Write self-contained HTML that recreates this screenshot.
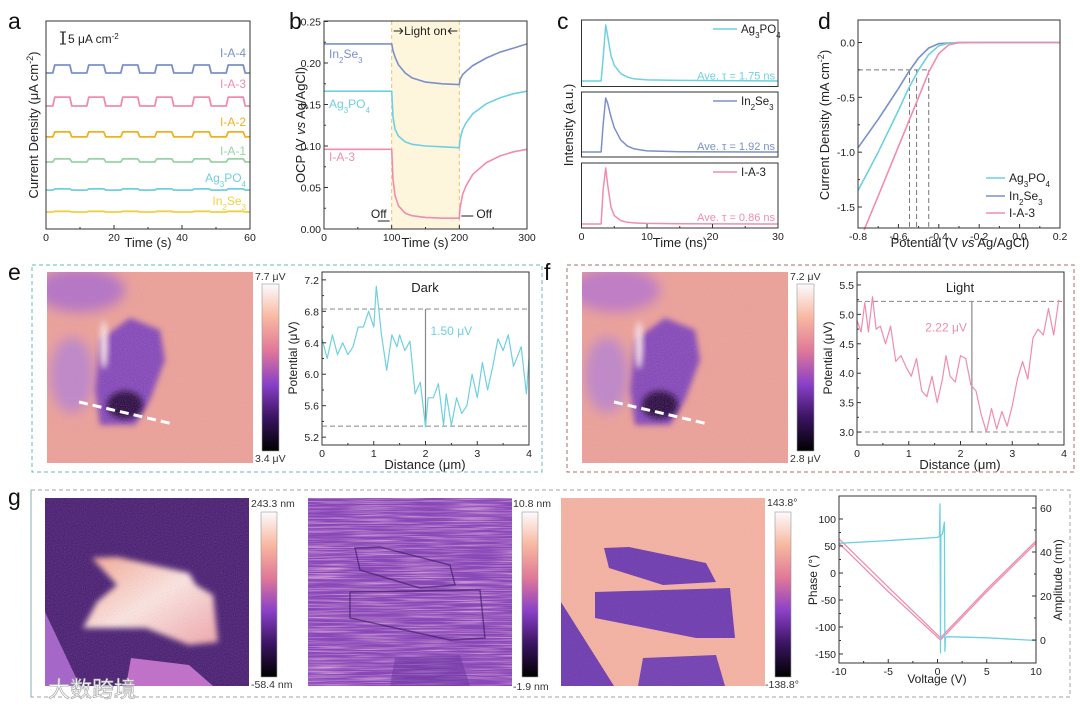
<!DOCTYPE html>
<html><head><meta charset="utf-8"><style>
html,body{margin:0;padding:0;background:#fff;}
svg{display:block;font-family:"Liberation Sans","Noto Sans CJK SC",sans-serif;}
</style></head><body>
<svg id="fig" width="1080" height="706" viewBox="0 0 1080 706" xmlns="http://www.w3.org/2000/svg">
<defs>
<linearGradient id="cbar" x1="0" y1="1" x2="0" y2="0">
<stop offset="0" stop-color="#000"/><stop offset="0.2" stop-color="#3a1460"/><stop offset="0.4" stop-color="#8a40c8"/><stop offset="0.6" stop-color="#e07898"/><stop offset="0.8" stop-color="#f8b8a0"/><stop offset="1" stop-color="#fbfbfd"/>
</linearGradient>
<linearGradient id="wing" x1="0" y1="0" x2="1" y2="1"><stop offset="0" stop-color="#f4a890"/><stop offset="0.5" stop-color="#fde8e0"/><stop offset="1" stop-color="#f0a8a8"/></linearGradient>
<filter id="grain" x="0" y="0" width="100%" height="100%"><feTurbulence type="fractalNoise" baseFrequency="0.9" numOctaves="1" seed="3"/><feColorMatrix type="matrix" values="0 0 0 0 0.5  0 0 0 0 0.3  0 0 0 0 0.6  0 0 0 -1.4 1.0"/></filter>
<filter id="streak" x="0" y="0" width="100%" height="100%"><feTurbulence type="fractalNoise" baseFrequency="0.02 0.7" numOctaves="2" seed="5"/><feColorMatrix type="matrix" values="0 0 0 0 0.95  0 0 0 0 0.6  0 0 0 0 0.8  0 0 0 -2.2 1.3"/></filter>
<filter id="blur6" x="-50%" y="-50%" width="200%" height="200%"><feGaussianBlur stdDeviation="6"/></filter>
<filter id="blur3" x="-50%" y="-50%" width="200%" height="200%"><feGaussianBlur stdDeviation="3"/></filter>
<clipPath id="clipE"><rect x="47" y="272" width="206" height="191"/></clipPath>
<clipPath id="clipF"><rect x="582" y="272" width="206" height="191"/></clipPath>
<clipPath id="clipG1"><rect x="45" y="498" width="204" height="188"/></clipPath>
<clipPath id="clipG2"><rect x="308" y="498" width="204" height="188"/></clipPath>
<clipPath id="clipG3"><rect x="561" y="498" width="204" height="188"/></clipPath>
</defs>

<!-- panel e image -->
<g clip-path="url(#clipE)">
<rect x="47" y="272" width="206" height="191" fill="#efa496"/>
<ellipse cx="80" cy="290" rx="45" ry="22" fill="#b574c4" filter="url(#blur6)"/>
<ellipse cx="72" cy="375" rx="22" ry="38" fill="#c088c8" filter="url(#blur6)"/>
<polygon points="100,340 130,318 160,330 165,360 150,400 135,425 100,425 95,390" fill="#8448b8" filter="url(#blur3)"/>
<ellipse cx="125" cy="405" rx="18" ry="14" fill="#2a1040" filter="url(#blur3)"/>
<ellipse cx="104" cy="345" rx="4" ry="24" fill="#fbe4e4" filter="url(#blur3)"/>
<rect x="47" y="272" width="206" height="191" filter="url(#grain)" opacity="0.35"/>
<line x1="79" y1="402" x2="173" y2="424" stroke="#fff" stroke-width="3" stroke-dasharray="9,5"/>
</g>
<!-- panel f image -->
<g clip-path="url(#clipF)">
<rect x="582" y="272" width="206" height="191" fill="#efa496"/>
<ellipse cx="615" cy="290" rx="45" ry="22" fill="#c07cc4" filter="url(#blur6)"/>
<ellipse cx="607" cy="375" rx="22" ry="38" fill="#c088c8" filter="url(#blur6)"/>
<polygon points="635,340 665,318 695,330 700,360 685,400 670,425 635,425 630,390" fill="#8448b8" filter="url(#blur3)"/>
<ellipse cx="660" cy="405" rx="18" ry="14" fill="#2a1040" filter="url(#blur3)"/>
<ellipse cx="639" cy="345" rx="4" ry="24" fill="#fbe4e4" filter="url(#blur3)"/>
<rect x="582" y="272" width="206" height="191" filter="url(#grain)" opacity="0.35"/>
<line x1="614" y1="402" x2="708" y2="424" stroke="#fff" stroke-width="3" stroke-dasharray="9,5"/>
</g>
<!-- panel g images -->
<g clip-path="url(#clipG1)">
<rect x="45" y="498" width="204" height="188" fill="#4a2272"/>
<polygon points="45,612 80,686 45,686" fill="#a464c8"/>
<polygon points="131,658 189,665 213,686 126,686" fill="#c070c8"/>
<polygon points="92,558 117,557 189,573 196,585 213,595 218,642 189,645 146,628 83,628 97,602 117,585" fill="url(#wing)" filter="url(#blur3)"/>
<rect x="45" y="498" width="204" height="188" filter="url(#grain)" opacity="0.25"/>
</g>
<g clip-path="url(#clipG2)">
<rect x="308" y="498" width="204" height="188" fill="#8848b8"/>
<rect x="308" y="498" width="204" height="188" filter="url(#streak)" opacity="0.7"/>
<polygon points="355,548 380,547 450,565 455,585 420,588 360,570" fill="none" stroke="#3a1860" stroke-width="1.5" opacity="0.6"/>
<polygon points="350,592 480,590 485,638 450,640 350,618" fill="none" stroke="#3a1860" stroke-width="1.5" opacity="0.6"/>
<polygon points="395,658 460,655 470,686 390,686" fill="#6a34a0" opacity="0.5"/>
</g>
<g clip-path="url(#clipG3)">
<rect x="561" y="498" width="204" height="188" fill="#f4b4a2"/>
<polygon points="561,602 614,686 561,686" fill="#7040b0"/>
<polygon points="604,548 629,547 706,563 716,582 663,585 609,568" fill="#7040b0"/>
<polygon points="595,592 730,588 735,638 696,638 595,618" fill="#7040b0"/>
<polygon points="643,658 716,655 725,686 638,686" fill="#7444b2"/>
<rect x="561" y="498" width="204" height="188" filter="url(#grain)" opacity="0.15"/>
</g>
<!-- colorbars -->
<rect x="262" y="284" width="17" height="167" fill="url(#cbar)" stroke="#999" stroke-width="0.6"/>
<rect x="797" y="284" width="17" height="167" fill="url(#cbar)" stroke="#999" stroke-width="0.6"/>
<rect x="261" y="512" width="16" height="165" fill="url(#cbar)" stroke="#999" stroke-width="0.6"/>
<rect x="522" y="512" width="16" height="165" fill="url(#cbar)" stroke="#999" stroke-width="0.6"/>
<rect x="775" y="512" width="16" height="165" fill="url(#cbar)" stroke="#999" stroke-width="0.6"/>
<g font-size="10.5" fill="#333">
<text x="255" y="280">7.7 μV</text><text x="255" y="462">3.4 μV</text>
<text x="790" y="280">7.2 μV</text><text x="790" y="462">2.8 μV</text>
<text x="251" y="507">243.3 nm</text><text x="251" y="688">-58.4 nm</text>
<text x="513" y="507">10.8 nm</text><text x="513" y="690">-1.9 nm</text>
<text x="767" y="506">143.8°</text><text x="765" y="688">-138.8°</text>
</g>
<!-- dashed frames -->
<rect x="32" y="265" width="510" height="207" fill="none" stroke="#6ab8c0" stroke-dasharray="4,3"/>
<rect x="567" y="265" width="507" height="207" fill="none" stroke="#b06868" stroke-dasharray="4,3"/>
<rect x="31" y="490" width="1039" height="207" fill="none" stroke="#a8a0a0" stroke-dasharray="4,3"/>
<line x1="31" y1="490" x2="31" y2="697" stroke="#6ab8c0" stroke-dasharray="4,3"/>
<!-- panel letters -->
<g font-size="23" fill="#111">
<text x="8" y="29">a</text><text x="289" y="29">b</text><text x="557" y="29">c</text><text x="818" y="29">d</text>
<text x="8" y="280">e</text><text x="544" y="280">f</text><text x="8" y="505">g</text>
</g>
<text x="48" y="697" font-size="22" fill="#fff" stroke="#aaa" stroke-width="0.7">大数跨境</text>
<g id="charts"></g>
</svg>
<script>
// ---------- data ----------
// panel a
const aSeries = ['In2Se3','Ag3PO4','I-A-1','I-A-2','I-A-3','I-A-4'];
const aBase = [7.7, 17.6, 30.3, 41.6, 55.6, 70.5];
const aAmp = [0.3, 0.5, 1.4, 2.3, 4, 3.6];
const aOnStart = [2, 12, 22, 32, 43, 53];
const aOnDur = [5, 5, 5, 5, 5, 5];
const aXTicks = [0, 20, 40, 60];
// panel b
const bTime = [0,100,102,105,110,120,130,150,175,200,201,205,210,220,240,260,280,300];
const bIn2Se3 = [0.223,0.223,0.215,0.207,0.198,0.188,0.182,0.177,0.175,0.174,0.180,0.186,0.190,0.197,0.206,0.213,0.218,0.223];
const bAg3PO4 = [0.166,0.166,0.135,0.120,0.112,0.105,0.102,0.100,0.099,0.098,0.108,0.120,0.128,0.139,0.151,0.158,0.163,0.166];
const bIA3 = [0.096,0.096,0.060,0.040,0.028,0.019,0.016,0.014,0.013,0.013,0.025,0.042,0.052,0.066,0.080,0.088,0.093,0.096];
const bYTicks = [0,0.05,0.10,0.15,0.20,0.25];
const bXTicks = [0,100,200,300];
// panel c
const cTime = [0,3,3.3,3.7,4.0,4.5,5,6,7,8,10,15,30];
const cAg3PO4 = [0,0,0.4,1,0.8,0.45,0.28,0.13,0.07,0.04,0.02,0.01,0];
const cIn2Se3 = [0,0,0.5,1,0.9,0.65,0.45,0.22,0.11,0.06,0.02,0.005,0];
const cIA3 = [0,0,0.6,1,0.7,0.3,0.15,0.06,0.03,0.02,0.01,0.005,0];
const cTau = ['1.75','1.92','0.86'];
const cXTicks = [0,10,20,30];
// panel d
const dInV = [-0.8,-0.7,-0.6,-0.55,-0.5,-0.45,-0.4,-0.3,0.2];
const dInJ = [-0.96,-0.7,-0.42,-0.27,-0.14,-0.05,-0.01,0,0];
const dAgV = [-0.8,-0.7,-0.6,-0.55,-0.5,-0.45,-0.4,-0.35,-0.3,0.2];
const dAgJ = [-1.35,-1.0,-0.62,-0.42,-0.25,-0.11,-0.03,-0.005,0,0];
const dIAV = [-0.77,-0.7,-0.6,-0.5,-0.45,-0.4,-0.35,-0.3,-0.2,0.2];
const dIAJ = [-1.71,-1.4,-0.95,-0.5,-0.27,-0.1,-0.02,-0.003,0,0];
const dOnset = [-0.545,-0.51,-0.45];
const dXTicks = [-0.8,-0.6,-0.4,-0.2,0.0,0.2];
const dYTicks = [0,-0.5,-1.0,-1.5];
// panel e
const eDist = [0,0.1,0.2,0.3,0.4,0.5,0.6,0.7,0.8,0.9,1.0,1.05,1.15,1.25,1.35,1.45,1.5,1.6,1.7,1.8,1.9,2.0,2.05,2.15,2.25,2.35,2.4,2.5,2.6,2.7,2.8,2.9,3.0,3.1,3.2,3.3,3.4,3.5,3.6,3.7,3.85,3.95,4.0];
const ePot = [6.45,6.2,6.5,6.25,6.4,6.25,6.35,6.6,6.6,6.8,6.6,7.12,6.5,6.05,6.5,6.35,6.5,6.3,6.42,5.75,5.9,5.33,5.7,5.7,5.88,5.35,5.75,5.35,5.7,5.5,5.6,6.0,5.7,6.15,5.8,6.1,6.45,6.3,6.5,6.1,6.35,5.75,6.2];
const eLevels = [6.83, 5.34];
const eYTicks = [5.2,5.6,6.0,6.4,6.8,7.2];
const eXTicks = [0,1,2,3,4];
// panel f
const fDist = [0,0.08,0.15,0.22,0.3,0.37,0.45,0.55,0.65,0.75,0.85,0.95,1.05,1.15,1.25,1.35,1.45,1.55,1.65,1.72,1.8,1.9,2.0,2.1,2.2,2.3,2.4,2.5,2.6,2.7,2.8,2.9,3.0,3.1,3.2,3.3,3.4,3.5,3.6,3.7,3.8,3.9];
const fPot = [4.9,4.7,5.2,4.7,5.3,4.75,4.8,4.5,4.8,4.2,4.3,4.1,3.95,4.25,3.7,3.6,3.95,3.5,3.9,4.3,3.95,3.85,4.3,4.25,3.8,3.7,3.3,3.0,3.4,3.05,3.35,3.1,3.45,3.9,4.2,3.9,4.6,4.75,4.65,5.1,4.65,5.25];
const fLevels = [5.22, 3.0];
const fYTicks = [3.0,3.5,4.0,4.5,5.0,5.5];
const fXTicks = [0,1,2,3,4];
// panel g chart
const gVolt = [-10,-5,0,0.2,0.25,0.3,0.35,0.5,0.7,0.75,0.8,1,5,10];
const gPhase = [55,60,66,68,128,-148,70,72,94,-145,-120,-118,-120,-125];
const gAmpV = [-10,-5,0.3,5,10];
const gAmp = [44,22,0,22,44];
const gAmpV2 = [-10,-5,0.3,5,10];
const gAmp2 = [46,24,1,23,45];
const gYTicks = [-150,-100,-50,0,50,100];
const gY2Ticks = [0,20,40,60];
const gXTicks = [-10,-5,0,5,10];

// ---------- helpers ----------
const NS='http://www.w3.org/2000/svg';
const root=document.getElementById('charts');
function mk(tag, attrs, name, inter, parent){
  const e=document.createElementNS(NS,tag);
  for(const k in attrs) e.setAttribute(k,attrs[k]);
  
  
  (parent||root).appendChild(e);
  return e;
}
function lin(d0,d1,r0,r1){return v=>r0+(v-d0)*(r1-r0)/(d1-d0);}
function txt(x,y,s,name,opts){
  const t=mk('text',Object.assign({x:x,y:y,'font-size':11,fill:'#222'},opts||{}),name,'false');
  t.innerHTML=s; return t;
}
function line(xs,ys,sx,sy,color,name,w){
  const d=xs.map((v,i)=>(i?'L':'M')+sx(v).toFixed(1)+','+sy(ys[i]).toFixed(1)).join('');
  return mk('path',{d:d,fill:'none',stroke:color,'stroke-width':w||1.4,'stroke-linejoin':'round'},name,'false');
}
function frame(x0,y0,x1,y1,name){mk('rect',{x:x0,y:y0,width:x1-x0,height:y1-y0,fill:'none',stroke:'#333','stroke-width':1},name,'false');}
function xticks(vals,sx,y0,y1,name,fmt,labels){
  vals.forEach((v,i)=>{
    mk('line',{x1:sx(v),x2:sx(v),y1:y1,y2:y1-4,stroke:'#333'},name+'-tick','false');
    if(i<vals.length-1){const m=(sx(v)+sx(vals[i+1]))/2; mk('line',{x1:m,x2:m,y1:y1,y2:y1-2,stroke:'#333'},name+'-minor-tick','false');}
    if(labels!==false) txt(sx(v),y1+12,fmt?fmt(v):v,name+'-label',{'text-anchor':'middle','font-size':10.5});
  });
}
function yticks(vals,sy,x0,name,fmt,right){
  vals.forEach((v,i)=>{
    const d=right?-4:4;
    mk('line',{x1:x0,x2:x0+d,y1:sy(v),y2:sy(v),stroke:'#333'},name+'-tick','false');
    if(i<vals.length-1){const m=(sy(v)+sy(vals[i+1]))/2; mk('line',{x1:x0,x2:x0+d/2,y1:m,y2:m,stroke:'#333'},name+'-minor-tick','false');}
    txt(right?x0+4:x0-3,sy(v)+4,fmt?fmt(v):v,name+'-label',{'text-anchor':right?'start':'end','font-size':10.5});
  });
}
function ytitle(x,y,s,name,fs){txt(0,0,s,name,{'text-anchor':'middle','font-size':fs||13,transform:'translate('+x+','+y+') rotate(-90)'});}
const f2=v=>v.toFixed(2), f1=v=>v.toFixed(1);

// ---------- panel a ----------
(function(){
  const sx=lin(0,60,46,250), sy=lin(0,94,229,21);
  const cols=['#f0d040','#6ed0e0','#98d4a8','#f0b020','#f08cb0','#7b90c8'];
  const labs=['In<tspan baseline-shift="sub" font-size="8">2</tspan>Se<tspan baseline-shift="sub" font-size="8">3</tspan>','Ag<tspan baseline-shift="sub" font-size="8">3</tspan>PO<tspan baseline-shift="sub" font-size="8">4</tspan>','I-A-1','I-A-2','I-A-3','I-A-4'];
  const labY=[205,182,155,126,88,57];
  aSeries.forEach((s,k)=>{
    const xs=[0],ys=[aBase[k]];
    aOnStart.forEach((t,i)=>{xs.push(t,t+0.6,t+aOnDur[i],t+aOnDur[i]+0.6);ys.push(aBase[k],aBase[k]+aAmp[k],aBase[k]+aAmp[k],aBase[k]);});
    xs.push(60);ys.push(aBase[k]);
    line(xs,ys,sx,sy,cols[k],'trace-'+s.toLowerCase(),1.8);
    txt(246,labY[k],labs[k],'label-'+s.toLowerCase(),{'text-anchor':'end','font-size':12,fill:cols[k]});
  });
  frame(46,21,250,229,'panel-a-plot-frame');
  xticks(aXTicks,sx,21,229,'a-x');
  mk('line',{x1:63,x2:63,y1:32,y2:44,stroke:'#222','stroke-width':1.5},'scale-bar','false');
  mk('line',{x1:60,x2:66,y1:32,y2:32,stroke:'#222'},'scale-bar-cap','false');
  mk('line',{x1:60,x2:66,y1:44,y2:44,stroke:'#222'},'scale-bar-cap','false');
  txt(68,43,'5 μA cm<tspan baseline-shift="super" font-size="8">-2</tspan>','scale-bar-label',{'font-size':12});
  txt(148,247,'Time (s)','a-x-title',{'text-anchor':'middle','font-size':13});
  ytitle(38,125,'Current Density (μA cm<tspan baseline-shift="super" font-size="9">-2</tspan>)','a-y-title');
})();

// ---------- panel b ----------
(function(){
  const sx=lin(0,300,324,527), sy=lin(0,0.25,229,21.5);
  mk('rect',{x:sx(100),y:21,width:sx(200)-sx(100),height:208,fill:'#fdf6dc'},'light-on-region','false');
  mk('line',{x1:sx(100),x2:sx(100),y1:21,y2:229,stroke:'#f0c070','stroke-dasharray':'4,3'},'light-on-start','false');
  mk('line',{x1:sx(200),x2:sx(200),y1:21,y2:229,stroke:'#f0c070','stroke-dasharray':'4,3'},'light-off-start','false');
  line(bTime,bIn2Se3,sx,sy,'#7b90c8','ocp-in2se3',1.6);
  line(bTime,bAg3PO4,sx,sy,'#6ed0e0','ocp-ag3po4',1.6);
  line(bTime,bIA3,sx,sy,'#f08cb0','ocp-i-a-3',1.6);
  frame(324,21,527,229,'panel-b-plot-frame');
  xticks(bXTicks,sx,21,229,'b-x');
  yticks(bYTicks,sy,324,'b-y',f2);
  txt(329,58,'In<tspan baseline-shift="sub" font-size="8">2</tspan>Se<tspan baseline-shift="sub" font-size="8">3</tspan>','label-in2se3',{fill:'#7b90c8','font-size':12});
  txt(329,108,'Ag<tspan baseline-shift="sub" font-size="8">3</tspan>PO<tspan baseline-shift="sub" font-size="8">4</tspan>','label-ag3po4',{fill:'#6ed0e0','font-size':12});
  txt(329,161,'I-A-3','label-i-a-3',{fill:'#f08cb0','font-size':12});
  txt(sx(150),35,'Light on','light-on-label',{'text-anchor':'middle','font-size':12});
  mk('path',{d:'M'+(sx(100)+2)+',31 h9 M'+(sx(100)+8)+',28 l3,3 l-3,3',stroke:'#222',fill:'none'},'light-on-arrow-left','false');
  mk('path',{d:'M'+(sx(200)-2)+',31 h-9 M'+(sx(200)-8)+',28 l-3,3 l3,3',stroke:'#222',fill:'none'},'light-on-arrow-right','false');
  txt(sx(100)-5,218,'Off','off-label-left',{'text-anchor':'end','font-size':12});
  mk('path',{d:'M'+(sx(100)-2)+',221 h-12',stroke:'#222'},'off-arrow-left','false');
  txt(sx(200)+17,218,'Off','off-label-right',{'font-size':12});
  mk('path',{d:'M'+(sx(200)+2)+',216 h12',stroke:'#222'},'off-arrow-right','false');
  txt(425,247,'Time (s)','b-x-title',{'text-anchor':'middle','font-size':13});
  ytitle(305,125,'OCP (V <tspan font-style="italic">vs</tspan> Ag/AgCl)','b-y-title');
})();

// ---------- panel c ----------
(function(){
  const sx=lin(0,30,581.5,778);
  const boxes=[[20,86.5,81,25],[92,157,152,98],[163,228,224,168]];
  const data=[cAg3PO4,cIn2Se3,cIA3];
  const cols=['#6ed0e0','#7b90c8','#f08cb0'];
  const names=['ag3po4','in2se3','i-a-3'];
  const labs=['Ag<tspan baseline-shift="sub" font-size="8">3</tspan>PO<tspan baseline-shift="sub" font-size="8">4</tspan>','In<tspan baseline-shift="sub" font-size="8">2</tspan>Se<tspan baseline-shift="sub" font-size="8">3</tspan>','I-A-3'];
  boxes.forEach((b,k)=>{
    const sy=lin(0,1,b[2],b[3]);
    line(cTime,data[k],sx,sy,cols[k],'decay-'+names[k],1.5);
    frame(581.5,b[0],778,b[1],'panel-c-frame-'+names[k]);
    mk('line',{x1:713,x2:737,y1:b[0]+9,y2:b[0]+9,stroke:cols[k],'stroke-width':1.6},'legend-line-'+names[k],'false');
    txt(741,b[0]+13,labs[k],'legend-'+names[k],{'font-size':11.5});
    txt(775,b[1]-7,'Ave. τ = '+cTau[k]+' ns','tau-'+names[k],{'text-anchor':'end','font-size':11,fill:cols[k]});
  });
  xticks(cXTicks,sx,163,228,'c-x');
  txt(680,247,'Time (ns)','c-x-title',{'text-anchor':'middle','font-size':13});
  ytitle(573,125,'Intensity (a.u.)','c-y-title');
})();

// ---------- panel d ----------
(function(){
  const sx=lin(-0.8,0.2,858,1060), sy=lin(0,-1.5,42.5,207);
  mk('path',{d:'M858,'+sy(-0.25)+' H'+sx(-0.45),stroke:'#777','stroke-dasharray':'5,3',fill:'none'},'d-ref-line','false');
  dOnset.forEach(v=>{mk('line',{x1:sx(v),x2:sx(v),y1:sy(-0.25),y2:228,stroke:'#777','stroke-dasharray':'5,3'},'onset-line','false');});
  line(dInV,dInJ,sx,sy,'#7b90c8','lsv-in2se3',1.6);
  line(dAgV,dAgJ,sx,sy,'#6ed0e0','lsv-ag3po4',1.6);
  line(dIAV,dIAJ,sx,sy,'#f08cb0','lsv-i-a-3',1.6);
  frame(858,20,1060,228,'panel-d-plot-frame');
  xticks(dXTicks,sx,20,228,'d-x',f1);
  yticks(dYTicks,sy,858,'d-y',f1);
  const leg=[['ag3po4','#6ed0e0','Ag<tspan baseline-shift="sub" font-size="8">3</tspan>PO<tspan baseline-shift="sub" font-size="8">4</tspan>',178],['in2se3','#7b90c8','In<tspan baseline-shift="sub" font-size="8">2</tspan>Se<tspan baseline-shift="sub" font-size="8">3</tspan>',196],['i-a-3','#f08cb0','I-A-3',213]];
  leg.forEach(l=>{
    mk('line',{x1:986,x2:1005,y1:l[3],y2:l[3],stroke:l[1],'stroke-width':1.6},'legend-line-'+l[0],'false');
    txt(1009,l[3]+4,l[2],'legend-'+l[0],{'font-size':12});
  });
  txt(960,247,'Potential (V <tspan font-style="italic">vs</tspan> Ag/AgCl)','d-x-title',{'text-anchor':'middle','font-size':13});
  ytitle(829,125,'Current Density (mA cm<tspan baseline-shift="super" font-size="9">-2</tspan>)','d-y-title');
})();

// ---------- panel e / f ----------
function kpfm(x0,dist,pot,levels,yt,ymin,ymax,color,title,valLabel,arrowX,name){
  const sx=lin(0,4,x0,x0+207), sy=lin(ymin,ymax,445,272);
  levels.forEach(v=>mk('line',{x1:x0,x2:x0+207,y1:sy(v),y2:sy(v),stroke:'#888','stroke-dasharray':'5,3'},name+'-level-line','false'));
  mk('line',{x1:sx(arrowX),x2:sx(arrowX),y1:sy(levels[0]),y2:sy(levels[1]),stroke:'#888','stroke-width':1.2},name+'-diff-arrow','false');
  line(dist,pot,sx,sy,color,name+'-profile',1.2);
  frame(x0,272,x0+207,445,name+'-plot-frame');
  xticks([0,1,2,3,4],sx,272,445,name+'-x');
  yticks(yt,sy,x0,name+'-y',f1);
  txt(x0+103,292,title,name+'-title',{'text-anchor':'middle','font-size':13});
  txt(sx(arrowX)-(name==='f'?5:-5),sy(levels[0])+(name==='f'?30:26),valLabel,name+'-diff-label',{'text-anchor':name==='f'?'end':'start','font-size':12,fill:color});
  txt(x0+103,469,'Distance (μm)','x-title-'+name,{'text-anchor':'middle','font-size':13});
  ytitle(x0-25,358,'Potential (μV)',name+'-y-title',12);
}
kpfm(322,eDist,ePot,eLevels,eYTicks,5.1,7.3,'#6ed0e0','Dark','1.50 μV',2.0,'e');
kpfm(857,fDist,fPot,fLevels,fYTicks,2.78,5.72,'#f08cb0','Light','2.22 μV',2.22,'f');

// ---------- panel g chart ----------
(function(){
  const sx=lin(-10,10,839,1036), sy=lin(-150,100,654,519), sy2=lin(0,60,640,508);
  line(gAmpV,gAmp,sx,sy2,'#f08cb0','amplitude-loop-forward',1.3);
  line(gAmpV2,gAmp2,sx,sy2,'#f08cb0','amplitude-loop-backward',1.3);
  line(gVolt,gPhase,sx,sy,'#6ed0e0','phase-loop',1.3);
  frame(839,496,1036,663,'panel-g-plot-frame');
  xticks(gXTicks,sx,496,663,'g-x');
  yticks(gYTicks,sy,839,'g-y');
  yticks(gY2Ticks,sy2,1036,'g-y2',null,true);
  txt(937,683,'Voltage (V)','g-x-title',{'text-anchor':'middle','font-size':12});
  ytitle(817,580,'Phase (°)','g-y-title',12);
  txt(0,0,'Amplitude (nm)','g-y2-title',{'text-anchor':'middle','font-size':12,transform:'translate(1062,580) rotate(-90)'});
})();
</script>
</body></html>
